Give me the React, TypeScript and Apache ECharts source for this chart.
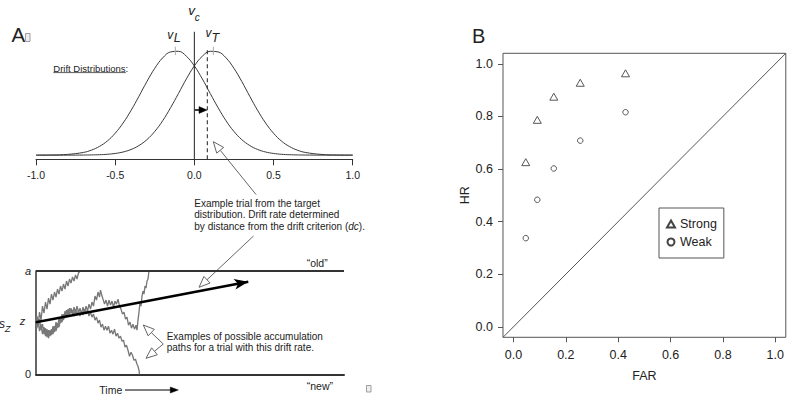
import React, { useEffect, useRef } from "react";
import * as echarts from "echarts";

const FONT = '"Liberation Sans", Arial, Helvetica, sans-serif';

// ---------- Panel A (top): drift distributions ----------
const driftX = [-1.0, -0.9, -0.8, -0.7, -0.65, -0.6, -0.55, -0.5, -0.45, -0.4, -0.35, -0.3, -0.25, -0.2, -0.15, -0.1, -0.05, 0, 0.05, 0.1, 0.15, 0.2, 0.25, 0.3, 0.35, 0.4, 0.45, 0.5, 0.55, 0.6, 0.65, 0.7, 0.8, 0.9, 1.0];
const lureDensity = [0.0, 0.001, 0.007, 0.026, 0.048, 0.083, 0.135, 0.21, 0.308, 0.428, 0.564, 0.705, 0.833, 0.933, 0.99, 0.996, 0.948, 0.856, 0.732, 0.592, 0.455, 0.33, 0.227, 0.148, 0.092, 0.054, 0.03, 0.016, 0.008, 0.004, 0.002, 0.001, 0.0, 0.0, 0.0];
const targetDensity = [0.0, 0.0, 0.0, 0.001, 0.002, 0.004, 0.008, 0.016, 0.03, 0.054, 0.092, 0.148, 0.227, 0.33, 0.455, 0.592, 0.732, 0.856, 0.948, 0.996, 0.99, 0.933, 0.833, 0.705, 0.564, 0.428, 0.308, 0.21, 0.135, 0.083, 0.048, 0.026, 0.007, 0.001, 0.0];
const vCriterion = 0;
const vLure = -0.12;
const vTarget = 0.12;
const exampleTrial = 0.082;

// ---------- Panel A (bottom): accumulation ----------
const timeMax = 308;
const boundaryA = 103;
const startZ = 52;
const szLow = 32;
const szHigh = 72.4;
const driftEnd = [212.3, 92.3];
const walkUp1 = [[0, 52], [1, 58], [2, 48], [3.5, 62], [5, 54], [6.5, 68], [8, 61], [9.5, 72], [11, 65], [12.5, 76], [14, 70], [15.5, 80], [17, 74], [18.5, 82], [20, 77], [21.5, 85], [23, 80], [24.5, 88], [26, 83], [27.5, 90], [29, 85], [30.5, 93], [32, 88], [33.5, 95], [35, 91], [36.5, 97], [38, 93], [39.5, 99], [41, 95], [42.5, 101], [44, 103]];
const walkUp2 = [[0, 52], [1, 46], [2, 55], [3.5, 43], [5, 50], [6.5, 40], [8, 47], [9.5, 38], [11, 45], [12.5, 36], [14, 44], [15.5, 39], [17, 48], [18.5, 42], [20, 52], [21.5, 46], [23, 56], [24.5, 51], [26, 60], [27.5, 54], [29, 63], [30.5, 57], [32, 65], [33.5, 59], [35, 66], [36.5, 60], [38, 67], [39.5, 61], [41, 68], [42.5, 62], [44, 66], [45.5, 60], [47, 67], [48.5, 61], [50, 68], [51.5, 63], [53, 70], [54.5, 65], [56, 72], [57.5, 68], [59, 78], [60.5, 74], [62, 82], [63.5, 77], [64.5, 84], [66, 78], [67, 75], [68.5, 70], [70, 74], [71.5, 68], [73, 74], [74.5, 69], [76, 73], [77.5, 67], [79, 73], [80.5, 70], [82, 75], [83.5, 68], [85, 65], [86.5, 60], [88, 62], [89.5, 55], [91, 57], [92.5, 49], [94, 52], [95.5, 46], [97, 50], [98.5, 45], [100, 49], [101, 44], [102, 54], [103, 62], [104, 72], [105, 68], [106, 78], [107, 83], [108, 80], [109, 88], [110, 86], [111, 93], [112, 95], [113, 103]];
const walkDown3 = [[0, 52], [1, 57], [2, 48], [3.5, 55], [5, 44], [6.5, 50], [8, 40], [9.5, 46], [11, 37], [12.5, 44], [14, 38], [15.5, 45], [17, 40], [18.5, 48], [20, 43], [21.5, 51], [23, 47], [24.5, 55], [26, 52], [27.5, 60], [29, 56], [30.5, 64], [32, 59], [33.5, 66], [35, 61], [36.5, 64], [38, 58], [39.5, 65], [41, 59], [42.5, 64], [44, 58], [45.5, 63], [47, 59], [48.5, 65], [50, 60], [51.5, 64], [53, 58], [54.5, 62], [56, 57], [57.5, 60], [59, 54], [60.5, 57], [62, 51], [63.5, 54], [65, 47], [66.5, 50], [68, 44], [69.5, 48], [71, 44], [72.5, 48], [74, 41], [75.5, 44], [77, 40], [78.5, 45], [80, 38], [81.5, 41], [83, 36], [84.5, 38], [86, 33], [87.5, 34], [89, 27], [90.5, 29], [92, 24], [93.5, 18], [95, 22], [96.5, 19], [98, 14], [99.5, 15], [101, 10], [102, 8], [103, 4], [103.5, 0]];

// ---------- Panel B: ROC points ----------
const farStrong = [0.047, 0.091, 0.154, 0.255, 0.428];
const hrStrong = [0.626, 0.787, 0.875, 0.928, 0.964];
const farWeak = [0.047, 0.091, 0.154, 0.255, 0.428];
const hrWeak = [0.337, 0.483, 0.602, 0.708, 0.816];
const rocTicks = [0, 0.2, 0.4, 0.6, 0.8, 1.0];

function txt(text: string, x: number, y: number, size: number, extra: any = {}) {
  return {
    type: "text",
    x,
    y,
    silent: true,
    style: {
      text,
      fontSize: size,
      fontFamily: FONT,
      fill: "#222",
      align: "left",
      verticalAlign: "middle",
      ...extra,
    },
  };
}

function hollowArrow(tx: number, ty: number, hx: number, hy: number) {
  const dx = hx - tx;
  const dy = hy - ty;
  const L = Math.hypot(dx, dy);
  const ux = dx / L;
  const uy = dy / L;
  const len = 11;
  const half = 4.5;
  const bx = hx - ux * len;
  const by = hy - uy * len;
  const nx = -uy;
  const ny = ux;
  return [
    { type: "line", silent: true, shape: { x1: tx, y1: ty, x2: bx, y2: by }, style: { stroke: "#666", lineWidth: 1 } },
    {
      type: "polygon",
      silent: true,
      shape: { points: [[hx, hy], [bx + nx * half, by + ny * half], [bx - nx * half, by - ny * half]] },
      style: { fill: "#fff", stroke: "#666", lineWidth: 1 },
    },
  ];
}

function solidArrow(x1: number, y1: number, x2: number, y2: number, len: number, half: number, w: number) {
  const dx = x2 - x1;
  const dy = y2 - y1;
  const L = Math.hypot(dx, dy);
  const ux = dx / L;
  const uy = dy / L;
  const bx = x2 - ux * len;
  const by = y2 - uy * len;
  const nx = -uy;
  const ny = ux;
  return [
    { type: "line", silent: true, shape: { x1, y1, x2: bx + ux, y2: by + uy }, style: { stroke: "#000", lineWidth: w } },
    {
      type: "polygon",
      silent: true,
      shape: { points: [[x2, y2], [bx + nx * half, by + ny * half], [bx - nx * half, by - ny * half]] },
      style: { fill: "#000", stroke: "#000", lineWidth: 0.5 },
    },
  ];
}

const fmt1 = (v: number) => (Math.abs(v) < 1e-9 ? "0.0" : v.toFixed(1));

export default function App() {
  const ref = useRef<HTMLDivElement>(null);

  useEffect(() => {
    if (!ref.current) return;
    const chart = echarts.init(ref.current, undefined, { renderer: "svg" });

    const graphic: any[] = [
      txt("A", 11.5, 34.5, 20.5),
      { type: "rect", silent: true, shape: { x: 25.5, y: 33.5, width: 4.5, height: 8 }, style: { fill: "#eee", stroke: "#888", lineWidth: 0.8 } },
      txt("B", 472, 35.5, 20),
      // v_c
      txt("v", 191.7, 10, 13.5, { align: "center", fontStyle: "italic" }),
      txt("c", 197.3, 17, 10, { align: "center", fontStyle: "italic" }),
      // v_L
      txt("v", 170.3, 35, 12, { align: "center", fontStyle: "italic" }),
      txt("L", 177.3, 37.5, 12.5, { align: "center", fontStyle: "italic" }),
      // v_T
      txt("v", 208.6, 32.5, 12, { align: "center", fontStyle: "italic" }),
      txt("T", 215.2, 38, 12.5, { align: "center", fontStyle: "italic" }),
      txt("Drift Distributions:", 53.3, 68.3, 9.5),
      { type: "line", silent: true, shape: { x1: 53.3, y1: 72.6, x2: 125.8, y2: 72.6 }, style: { stroke: "#333", lineWidth: 0.8 } },
      txt(
        "Example trial from the target\ndistribution. Drift rate determined\nby distance from the drift criterion ({i|dc}).",
        194.3,
        214.8,
        10,
        {
          lineHeight: 11.5,
          rich: { i: { fontStyle: "italic", fontSize: 10, fontFamily: FONT, fill: "#222", lineHeight: 11.5 } },
        }
      ),
      txt("Examples of possible accumulation\npaths for a trial with this drift rate.", 166.7, 342.2, 10, { lineHeight: 11 }),
      txt("\u201Cold\u201D", 306.7, 262.5, 10.5),
      txt("\u201Cnew\u201D", 306.7, 386, 10.5),
      txt("Time", 99.3, 389.7, 10.5),
      ...solidArrow(125, 390, 178.3, 390, 8, 3, 1),
      txt("z", 22.5, 321, 11, { align: "center", fontStyle: "italic" }),
      txt("s", 2, 323.5, 12, { align: "center", fontStyle: "italic" }),
      txt("Z", 7.6, 328.5, 9.5, { align: "center", fontStyle: "italic" }),
      { type: "rect", silent: true, shape: { x: 366.5, y: 385.5, width: 4.5, height: 6.5 }, style: { fill: "#eee", stroke: "#888", lineWidth: 0.8 } },
      ...hollowArrow(256, 194.5, 213.3, 141.7),
      ...hollowArrow(253.5, 236, 199, 287.3),
      ...hollowArrow(163.3, 344, 143.3, 325),
      ...hollowArrow(163.3, 344, 146, 358.3),
      ...solidArrow(194.5, 110, 207, 110, 8, 3.4, 1.5),
    ];

    const lineBase = { type: "line", showSymbol: false, silent: true, symbol: "none" };

    chart.setOption({
      animation: false,
      textStyle: { fontFamily: FONT },
      grid: [
        { left: 36, top: 46.7, width: 316.7, height: 112.6 },
        { left: 36, top: 271, width: 308, height: 103.3 },
        { left: 503, top: 53.3, width: 286.2, height: 284, show: true, borderColor: "#555", borderWidth: 1, backgroundColor: "transparent" },
      ],
      xAxis: [
        {
          gridIndex: 0,
          type: "value",
          min: -1,
          max: 1,
          interval: 0.5,
          axisLine: { show: true, onZero: false, lineStyle: { color: "#333", width: 1 } },
          axisTick: { show: true, length: 6, lineStyle: { color: "#333" } },
          axisLabel: { margin: 10, fontSize: 10.5, color: "#222", fontFamily: FONT, formatter: fmt1 },
          splitLine: { show: false },
        },
        {
          gridIndex: 1,
          type: "value",
          min: 0,
          max: timeMax,
          axisLine: { show: true, onZero: false, lineStyle: { color: "#333", width: 2 } },
          axisTick: { show: false },
          axisLabel: { show: false },
          splitLine: { show: false },
        },
        {
          gridIndex: 2,
          type: "value",
          min: -0.04,
          max: 1.04,
          axisLine: { show: false, onZero: false },
          axisTick: { show: true, length: 5, customValues: rocTicks, lineStyle: { color: "#555" } },
          axisLabel: { customValues: rocTicks, formatter: fmt1, fontSize: 12.5, margin: 11, color: "#222", fontFamily: FONT },
          splitLine: { show: false },
          name: "FAR",
          nameLocation: "middle",
          nameGap: 32,
          nameTextStyle: { fontSize: 12.5, color: "#222", fontFamily: FONT },
        },
      ],
      yAxis: [
        { gridIndex: 0, type: "value", min: -0.04, max: 1.04, show: false, splitLine: { show: false } },
        {
          gridIndex: 1,
          type: "value",
          min: 0,
          max: boundaryA,
          interval: boundaryA,
          axisLine: { show: true, onZero: false, lineStyle: { color: "#333", width: 1.5 } },
          axisTick: { show: false },
          axisLabel: {
            margin: 5,
            fontSize: 11,
            color: "#222",
            fontFamily: FONT,
            formatter: (v: number) => (v === 0 ? "0" : "{i|a}"),
            rich: { i: { fontStyle: "italic", fontSize: 11, fontFamily: FONT, color: "#222" } },
          },
          splitLine: { show: false },
        },
        {
          gridIndex: 2,
          type: "value",
          min: -0.04,
          max: 1.04,
          axisLine: { show: false, onZero: false },
          axisTick: { show: true, length: 5, customValues: rocTicks, lineStyle: { color: "#555" } },
          axisLabel: { customValues: rocTicks, formatter: fmt1, fontSize: 12.5, margin: 10, color: "#222", fontFamily: FONT },
          splitLine: { show: false },
          name: "HR",
          nameLocation: "middle",
          nameGap: 28,
          nameTextStyle: { fontSize: 12.5, color: "#222", fontFamily: FONT },
        },
      ],
      legend: {
        data: ["Strong", "Weak"],
        orient: "vertical",
        left: 659,
        top: 208,
        itemWidth: 8,
        itemHeight: 7,
        itemGap: 3,
        padding: [8.5, 7, 8.5, 7],
        borderColor: "#555",
        borderWidth: 1,
        borderRadius: 0,
        selectedMode: false,
        textStyle: { fontSize: 12.5, color: "#222", fontFamily: FONT, lineHeight: 15 },
      },
      graphic,
      series: [
        // Drift distributions
        { ...lineBase, name: "lure", xAxisIndex: 0, yAxisIndex: 0, smooth: 0.4, data: driftX.map((x, i) => [x, lureDensity[i]]), lineStyle: { color: "#3a3a3a", width: 1 } },
        { ...lineBase, name: "target", xAxisIndex: 0, yAxisIndex: 0, smooth: 0.4, data: driftX.map((x, i) => [x, targetDensity[i]]), lineStyle: { color: "#3a3a3a", width: 1 } },
        { ...lineBase, xAxisIndex: 0, yAxisIndex: 0, clip: false, data: [[vCriterion, -0.04], [vCriterion, 1.183]], lineStyle: { color: "#222", width: 1 } },
        { ...lineBase, xAxisIndex: 0, yAxisIndex: 0, clip: false, data: [[exampleTrial, -0.04], [exampleTrial, 1.015]], lineStyle: { color: "#333", width: 1.1, type: [4, 3] } },
        { ...lineBase, xAxisIndex: 0, yAxisIndex: 0, clip: false, data: [[vLure, 0.96], [vLure, 1.04]], lineStyle: { color: "#aaa", width: 1 } },
        { ...lineBase, xAxisIndex: 0, yAxisIndex: 0, clip: false, data: [[vTarget, 0.96], [vTarget, 1.04]], lineStyle: { color: "#aaa", width: 1 } },
        // Accumulation paths
        { ...lineBase, xAxisIndex: 1, yAxisIndex: 1, data: walkUp1, lineStyle: { color: "#777", width: 1.3 } },
        { ...lineBase, xAxisIndex: 1, yAxisIndex: 1, data: walkUp2, lineStyle: { color: "#777", width: 1.3 } },
        { ...lineBase, xAxisIndex: 1, yAxisIndex: 1, data: walkDown3, lineStyle: { color: "#777", width: 1.3 } },
        { ...lineBase, xAxisIndex: 1, yAxisIndex: 1, clip: false, data: [[-23.3, szLow], [0, szLow]], lineStyle: { color: "#777", width: 1 } },
        { ...lineBase, xAxisIndex: 1, yAxisIndex: 1, clip: false, data: [[-23.3, szHigh], [0, szHigh]], lineStyle: { color: "#777", width: 1 } },
        { ...lineBase, xAxisIndex: 1, yAxisIndex: 1, clip: false, data: [[-23.3, szLow], [-23.3, szHigh]], lineStyle: { color: "#777", width: 1 } },
        { ...lineBase, xAxisIndex: 1, yAxisIndex: 1, clip: false, data: [[-8.3, startZ], [0, startZ]], lineStyle: { color: "#333", width: 1 } },
        {
          ...lineBase,
          xAxisIndex: 1,
          yAxisIndex: 1,
          clip: false,
          data: [[0, boundaryA], [timeMax, boundaryA]],
          lineStyle: { color: "#333", width: 2 },
          markLine: {
            silent: true,
            symbol: ["none", "arrow"],
            symbolSize: [8, 14],
            label: { show: false },
            lineStyle: { color: "#000", width: 2.5, type: "solid" },
            emphasis: { disabled: true },
            data: [[{ coord: [0, startZ] }, { coord: driftEnd }]],
          },
        },
        // ROC
        { ...lineBase, xAxisIndex: 2, yAxisIndex: 2, data: [[-0.04, -0.04], [1.04, 1.04]], lineStyle: { color: "#555", width: 1 } },
        {
          type: "scatter",
          name: "Strong",
          xAxisIndex: 2,
          yAxisIndex: 2,
          symbol: "triangle",
          symbolSize: [8, 7],
          itemStyle: { color: "#fff", borderColor: "#444", borderWidth: 0.9, opacity: 1 },
          data: farStrong.map((f, i) => [f, hrStrong[i]]),
        },
        {
          type: "scatter",
          name: "Weak",
          xAxisIndex: 2,
          yAxisIndex: 2,
          symbol: "circle",
          symbolSize: 5.5,
          itemStyle: { color: "#fff", borderColor: "#444", borderWidth: 0.9, opacity: 1 },
          data: farWeak.map((f, i) => [f, hrWeak[i]]),
        },
      ],
    });

    return () => chart.dispose();
  }, []);

  return (
    <div
      ref={ref}
      style={{ position: "fixed", left: 0, top: 0, width: 787, height: 403, background: "#fff" }}
    />
  );
}
